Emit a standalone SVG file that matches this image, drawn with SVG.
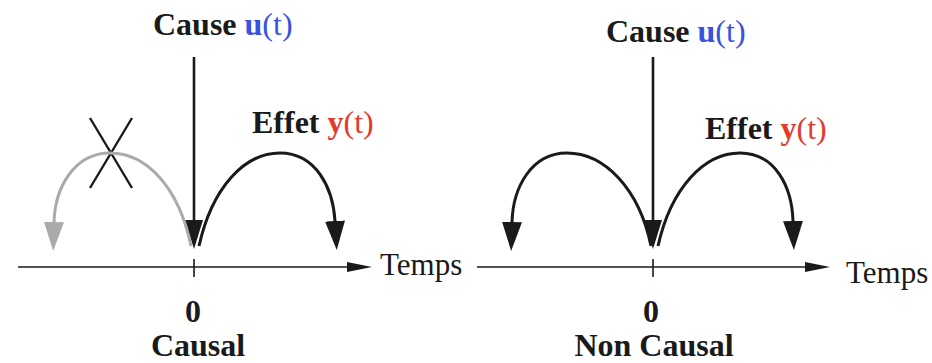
<svg xmlns="http://www.w3.org/2000/svg" width="932" height="363" viewBox="0 0 932 363">
<style>
.lbl{font-family:"Liberation Serif","Times New Roman",serif;font-weight:bold;font-size:32px;fill:#1a1a1a}
.reg{font-weight:normal}
.tm{font-family:"Liberation Serif","Times New Roman",serif;font-size:31px;fill:#1a1a1a}
.blue{fill:#3a52e0}
.red{fill:#e33b2b}
.axis{stroke:#1a1a1a;stroke-width:1.6;fill:none}
.vert{stroke:#1a1a1a;stroke-width:2.6;fill:none}
.arc{stroke:#1a1a1a;stroke-width:3;fill:none;marker-end:url(#hk)}
.arcg{stroke:#aaaaaa;stroke-width:3;fill:none;marker-end:url(#hg)}
.cross{stroke:#1a1a1a;stroke-width:2.4;fill:none}
</style>
<defs>
<marker id="hk" markerUnits="userSpaceOnUse" markerWidth="32" markerHeight="22" refX="0" refY="10" orient="auto">
<path d="M0,0 L29,10 L0,20 Z" fill="#1a1a1a"/>
</marker>
<marker id="hg" markerUnits="userSpaceOnUse" markerWidth="32" markerHeight="22" refX="0" refY="10" orient="auto">
<path d="M0,0 L29,10 L0,20 Z" fill="#aaaaaa"/>
</marker>
</defs>

<g id="causal">
<g id="left-axis">
<line class="axis" x1="18" y1="267" x2="350" y2="267"/>
<path d="M347,262 L372,267 L347,272 Z" fill="#1a1a1a"/>
<line class="axis" x1="194" y1="259" x2="194" y2="277"/>
<text class="tm" x="380" y="275">Temps</text>
</g>
<g id="left-cause">
<line class="vert" x1="194" y1="57" x2="194" y2="222"/>
<path d="M185,220 L203,220 L194,249 Z" fill="#1a1a1a"/>
<text class="lbl" x="153" y="35">Cause <tspan class="blue">u</tspan><tspan class="blue reg">(t)</tspan></text>
</g>
<g id="left-effect">
<text class="lbl" x="252" y="133">Effet <tspan class="red">y</tspan><tspan class="red reg">(t)</tspan></text>
</g>
<g id="left-crossed">
<line class="cross" x1="90" y1="118" x2="132" y2="188"/>
<line class="cross" x1="132" y1="118" x2="90" y2="188"/>
</g>
<text class="lbl" x="193" y="322" text-anchor="middle">0</text>
<text class="lbl" x="198" y="356" text-anchor="middle">Causal</text>
</g>

<g id="noncausal">
<g id="right-axis">
<line class="axis" x1="477" y1="267" x2="808" y2="267"/>
<path d="M805,262 L830,267 L805,272 Z" fill="#1a1a1a"/>
<line class="axis" x1="653" y1="259" x2="653" y2="277"/>
<text class="tm" x="846" y="283">Temps</text>
</g>
<g id="right-cause">
<line class="vert" x1="653" y1="57" x2="653" y2="222"/>
<path d="M644,220 L662,220 L653,249 Z" fill="#1a1a1a"/>
<text class="lbl" x="606" y="42">Cause <tspan class="blue">u</tspan><tspan class="blue reg">(t)</tspan></text>
</g>
<g id="right-effect">
<text class="lbl" x="705" y="139">Effet <tspan class="red">y</tspan><tspan class="red reg">(t)</tspan></text>
</g>
<text class="lbl" x="651" y="322" text-anchor="middle">0</text>
<text class="lbl" x="654" y="356" text-anchor="middle">Non Causal</text>
</g>

<g id="connectors">
<path class="arcg" d="M191,246 C179,188 147,153 110,153 C74,153 55,188 54,222"/>
<path class="arc" d="M199,246 C212,188 244,153 280,153 C316,153 333,188 335,221"/>
<path class="arc" d="M651,246 C639,188 604,153 567,153 C531,153 513,188 512,222"/>
<path class="arc" d="M658,246 C671,188 704,153 740,153 C776,153 792,188 793,221"/>
</g>
</svg>
